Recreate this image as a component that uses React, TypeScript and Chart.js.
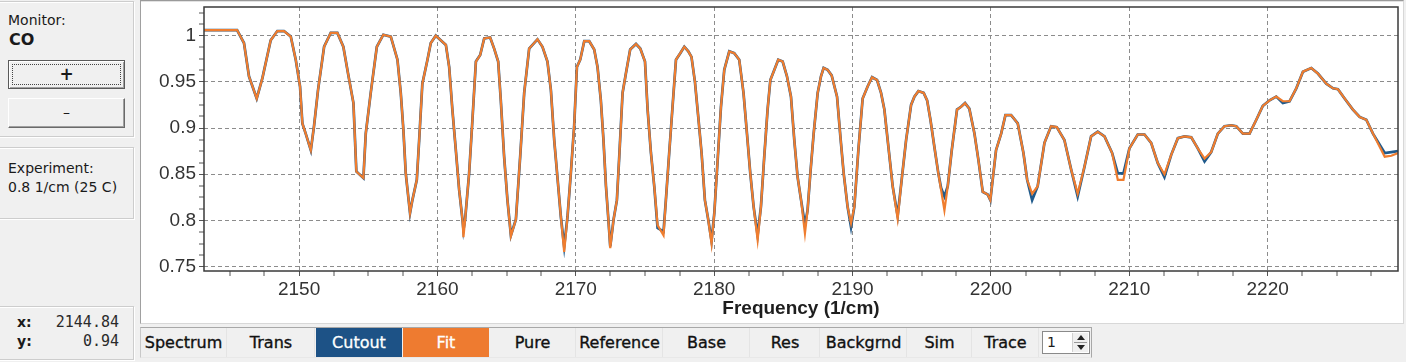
import React, { useEffect, useRef } from 'react';
import { Chart, registerables } from 'chart.js';

Chart.register(...registerables);

const X_MIN = 2143.13;
const X_MAX = 2229.42;
const Y_MIN = 0.7453;
const Y_MAX = 1.031;

const freqs = [
  2143.13, 2145.06, 2145.52, 2146.02, 2146.38, 2146.94, 2147.35, 2147.95, 2148.43, 2148.91,
  2149.40, 2149.76, 2150.07, 2150.24, 2150.48, 2150.85, 2151.08, 2151.37, 2151.81, 2152.29,
  2152.77, 2153.20, 2153.54, 2153.93, 2154.14, 2154.65, 2154.82, 2155.18, 2155.62, 2156.09,
  2156.63, 2157.11, 2157.35, 2157.54, 2157.71, 2158.02, 2158.19, 2158.51, 2158.68, 2158.91,
  2159.28, 2159.52, 2159.88, 2160.24, 2160.61, 2160.85, 2161.08, 2161.33, 2161.57, 2161.81,
  2161.88, 2162.00, 2162.29, 2162.53, 2162.78, 2163.09, 2163.38, 2163.81, 2164.10, 2164.39,
  2164.58, 2164.82, 2165.06, 2165.31, 2165.67, 2165.98, 2166.27, 2166.63, 2166.87, 2167.23,
  2167.59, 2167.95, 2168.20, 2168.44, 2168.73, 2168.92, 2169.16, 2169.40, 2169.64, 2169.88,
  2170.08, 2170.32, 2170.61, 2170.97, 2171.33, 2171.57, 2171.81, 2172.00, 2172.18, 2172.34,
  2172.49, 2172.73, 2172.97, 2173.14, 2173.38, 2173.62, 2173.93, 2174.35, 2174.66, 2175.00,
  2175.19, 2175.43, 2175.67, 2175.91, 2176.34, 2176.51, 2176.75, 2176.99, 2177.24, 2177.55,
  2177.84, 2178.13, 2178.36, 2178.61, 2178.85, 2179.09, 2179.33, 2179.57, 2179.81, 2180.01,
  2180.25, 2180.49, 2180.73, 2181.09, 2181.45, 2181.81, 2182.12, 2182.37, 2182.61, 2182.85,
  2183.14, 2183.38, 2183.62, 2183.86, 2184.06, 2184.35, 2184.63, 2184.95, 2185.26, 2185.55,
  2185.79, 2186.03, 2186.28, 2186.56, 2186.75, 2186.95, 2187.19, 2187.48, 2187.72, 2187.91,
  2188.20, 2188.49, 2188.88, 2189.12, 2189.36, 2189.64, 2189.89, 2190.13, 2190.42, 2190.73,
  2191.09, 2191.41, 2191.77, 2192.06, 2192.30, 2192.59, 2192.90, 2193.26, 2193.55, 2193.87,
  2194.23, 2194.47, 2194.76, 2195.14, 2195.39, 2195.63, 2195.91, 2196.20, 2196.40, 2196.64,
  2196.88, 2197.17, 2197.55, 2197.84, 2198.13, 2198.44, 2198.81, 2199.10, 2199.41, 2199.77,
  2199.96, 2200.37, 2200.74, 2201.05, 2201.46, 2201.94, 2202.35, 2202.62, 2202.98, 2203.38,
  2203.87, 2204.35, 2204.76, 2205.31, 2205.80, 2206.27, 2206.76, 2207.24, 2207.72, 2208.21,
  2208.76, 2209.17, 2209.58, 2210.01, 2210.61, 2211.10, 2211.58, 2212.06, 2212.54, 2213.03,
  2213.51, 2213.99, 2214.48, 2214.95, 2215.44, 2215.92, 2216.40, 2216.88, 2217.37, 2217.73,
  2218.21, 2218.69, 2219.18, 2219.65, 2220.14, 2220.62, 2221.10, 2221.58, 2222.07, 2222.55,
  2223.15, 2223.63, 2224.24, 2224.72, 2225.08, 2225.56, 2226.16, 2226.65, 2227.13, 2227.61,
  2228.46, 2228.94, 2229.42,
];

const cutout = [
  1.006, 1.006, 1.006, 0.992, 0.956, 0.932, 0.954, 0.995, 1.005, 1.005,
  0.999, 0.974, 0.945, 0.905, 0.894, 0.876, 0.902, 0.941, 0.988, 1.003,
  1.003, 0.988, 0.959, 0.927, 0.853, 0.846, 0.894, 0.938, 0.988, 1.001,
  0.999, 0.974, 0.938, 0.898, 0.851, 0.808, 0.822, 0.844, 0.887, 0.948,
  0.974, 0.992, 1.000, 0.995, 0.990, 0.966, 0.920, 0.876, 0.833, 0.801,
  0.790, 0.801, 0.851, 0.909, 0.972, 0.979, 0.997, 0.998, 0.986, 0.972,
  0.930, 0.869, 0.822, 0.784, 0.801, 0.869, 0.938, 0.986, 0.990, 0.996,
  0.988, 0.972, 0.941, 0.887, 0.837, 0.804, 0.772, 0.804, 0.851, 0.902,
  0.966, 0.974, 0.994, 0.994, 0.985, 0.966, 0.930, 0.887, 0.837, 0.804,
  0.772, 0.801, 0.822, 0.869, 0.938, 0.959, 0.985, 0.991, 0.986, 0.972,
  0.920, 0.873, 0.837, 0.792, 0.788, 0.822, 0.873, 0.923, 0.974, 0.981,
  0.988, 0.983, 0.977, 0.950, 0.912, 0.873, 0.822, 0.801, 0.778, 0.808,
  0.865, 0.923, 0.963, 0.983, 0.981, 0.974, 0.938, 0.894, 0.851, 0.815,
  0.784, 0.815, 0.869, 0.920, 0.952, 0.963, 0.974, 0.972, 0.956, 0.934,
  0.887, 0.847, 0.822, 0.795, 0.811, 0.851, 0.894, 0.938, 0.956, 0.965,
  0.963, 0.957, 0.934, 0.891, 0.851, 0.815, 0.793, 0.815, 0.876, 0.932,
  0.945, 0.955, 0.952, 0.938, 0.920, 0.880, 0.837, 0.805, 0.844, 0.887,
  0.925, 0.934, 0.940, 0.938, 0.930, 0.909, 0.880, 0.851, 0.835, 0.826,
  0.837, 0.876, 0.920, 0.923, 0.927, 0.921, 0.894, 0.865, 0.831, 0.828,
  0.822, 0.876, 0.894, 0.914, 0.914, 0.905, 0.873, 0.844, 0.822, 0.837,
  0.884, 0.902, 0.901, 0.887, 0.855, 0.826, 0.858, 0.891, 0.896, 0.891,
  0.873, 0.851, 0.851, 0.878, 0.893, 0.893, 0.884, 0.862, 0.847, 0.871,
  0.889, 0.891, 0.890, 0.878, 0.864, 0.874, 0.894, 0.902, 0.903, 0.902,
  0.894, 0.894, 0.909, 0.924, 0.930, 0.934, 0.927, 0.929, 0.943, 0.961,
  0.965, 0.959, 0.948, 0.943, 0.942, 0.932, 0.920, 0.912, 0.909, 0.894,
  0.873, 0.874, 0.875,
];

const fit = [
  1.006, 1.006, 1.006, 0.992, 0.956, 0.932, 0.954, 0.995, 1.005, 1.005,
  0.999, 0.974, 0.945, 0.905, 0.894, 0.876, 0.902, 0.941, 0.988, 1.003,
  1.003, 0.988, 0.959, 0.927, 0.853, 0.846, 0.894, 0.938, 0.988, 1.001,
  0.999, 0.974, 0.938, 0.898, 0.851, 0.808, 0.822, 0.844, 0.887, 0.948,
  0.974, 0.992, 1.000, 0.995, 0.990, 0.966, 0.920, 0.876, 0.833, 0.801,
  0.782, 0.801, 0.851, 0.909, 0.972, 0.979, 0.997, 0.998, 0.986, 0.972,
  0.930, 0.869, 0.822, 0.783, 0.801, 0.869, 0.938, 0.986, 0.990, 0.996,
  0.988, 0.972, 0.941, 0.887, 0.837, 0.804, 0.766, 0.804, 0.851, 0.902,
  0.966, 0.974, 0.994, 0.994, 0.985, 0.966, 0.930, 0.887, 0.837, 0.804,
  0.770, 0.801, 0.822, 0.869, 0.938, 0.959, 0.985, 0.991, 0.986, 0.972,
  0.920, 0.873, 0.837, 0.795, 0.784, 0.822, 0.873, 0.923, 0.974, 0.981,
  0.988, 0.983, 0.977, 0.950, 0.912, 0.873, 0.822, 0.801, 0.775, 0.808,
  0.865, 0.923, 0.963, 0.983, 0.981, 0.974, 0.938, 0.894, 0.851, 0.815,
  0.779, 0.815, 0.869, 0.920, 0.952, 0.963, 0.974, 0.972, 0.956, 0.934,
  0.887, 0.847, 0.822, 0.786, 0.811, 0.851, 0.894, 0.938, 0.956, 0.965,
  0.963, 0.957, 0.934, 0.891, 0.851, 0.815, 0.797, 0.815, 0.876, 0.932,
  0.945, 0.955, 0.952, 0.938, 0.920, 0.880, 0.837, 0.802, 0.844, 0.887,
  0.925, 0.934, 0.940, 0.938, 0.930, 0.909, 0.880, 0.851, 0.833, 0.811,
  0.837, 0.876, 0.920, 0.923, 0.927, 0.921, 0.894, 0.865, 0.831, 0.828,
  0.822, 0.876, 0.894, 0.914, 0.914, 0.905, 0.873, 0.844, 0.829, 0.837,
  0.884, 0.902, 0.901, 0.887, 0.855, 0.829, 0.858, 0.891, 0.896, 0.891,
  0.873, 0.844, 0.844, 0.878, 0.893, 0.893, 0.884, 0.862, 0.850, 0.871,
  0.889, 0.891, 0.890, 0.878, 0.867, 0.874, 0.894, 0.902, 0.903, 0.902,
  0.894, 0.894, 0.909, 0.924, 0.930, 0.934, 0.929, 0.929, 0.943, 0.961,
  0.965, 0.959, 0.948, 0.943, 0.942, 0.932, 0.920, 0.912, 0.909, 0.894,
  0.869, 0.870, 0.873,
];

const xTickValues = [
  2145, 2147.5, 2150, 2152.5, 2155, 2157.5, 2160, 2162.5, 2165, 2167.5, 2170, 2172.5,
  2175, 2177.5, 2180, 2182.5, 2185, 2187.5, 2190, 2192.5, 2195, 2197.5, 2200, 2202.5,
  2205, 2207.5, 2210, 2212.5, 2215, 2217.5, 2220, 2222.5, 2225, 2227.5,
];
const xLabelValues = [2150, 2160, 2170, 2180, 2190, 2200, 2210, 2220];

const yTickValues = [
  0.75, 0.7625, 0.775, 0.7875, 0.8, 0.8125, 0.825, 0.8375, 0.85, 0.8625, 0.875, 0.8875,
  0.9, 0.9125, 0.925, 0.9375, 0.95, 0.9625, 0.975, 0.9875, 1, 1.0125, 1.025,
];
const yLabelValues = [0.75, 0.8, 0.85, 0.9, 0.95, 1];

const toolbarButtons = [
  { label: 'Spectrum', left: 141, width: 86 },
  { label: 'Trans', left: 228, width: 87 },
  { label: 'Cutout', left: 316, width: 86, bg: '#1d5286', fg: '#ffffff' },
  { label: 'Fit', left: 403, width: 86, bg: '#ee7b30', fg: '#ffffff' },
  { label: 'Pure', left: 490, width: 86 },
  { label: 'Reference', left: 577, width: 86 },
  { label: 'Base', left: 664, width: 86 },
  { label: 'Res', left: 751, width: 69 },
  { label: 'Backgrnd', left: 821, width: 86 },
  { label: 'Sim', left: 908, width: 64 },
  { label: 'Trace', left: 973, width: 66 },
];

const near = (list: number[], v: any) =>
  typeof v === 'number' && list.some((m) => Math.abs(m - v) < 1e-6);

const framePlugin = {
  id: 'frame',
  afterDatasetsDraw(chart: any) {
    const { ctx, chartArea } = chart;
    const { left, top, right, bottom } = chartArea;
    ctx.save();
    ctx.strokeStyle = '#3a3a3a';
    ctx.lineWidth = 1.5;
    ctx.strokeRect(left, top, right - left, bottom - top);
    ctx.restore();
  },
};

const uiFont = "'DejaVu Sans', 'Noto Sans', sans-serif";

export default function App() {
  const canvasRef = useRef<HTMLCanvasElement | null>(null);

  useEffect(() => {
    const canvas = canvasRef.current;
    if (!canvas) return;
    const tickFont = { family: "'Liberation Sans', Arial, sans-serif", size: 19 };
    const chart = new Chart(canvas, {
      type: 'line',
      data: {
        datasets: [
          {
            label: 'Fit',
            data: freqs.map((x, i) => ({ x, y: fit[i] })),
            borderColor: '#ef7d2f',
            borderWidth: 2.2,
            pointRadius: 0,
            tension: 0,
            order: 1,
          },
          {
            label: 'Cutout',
            data: freqs.map((x, i) => ({ x, y: cutout[i] })),
            borderColor: '#1f5a8c',
            borderWidth: 2.7,
            pointRadius: 0,
            tension: 0,
            order: 2,
          },
        ],
      },
      options: {
        animation: false,
        responsive: false,
        maintainAspectRatio: false,
        layout: { padding: { left: 0, top: 5, right: 3, bottom: 0 } },
        plugins: { legend: { display: false }, tooltip: { enabled: false } },
        scales: {
          x: {
            type: 'linear',
            min: X_MIN,
            max: X_MAX,
            afterBuildTicks: (s: any) => {
              s.ticks = xTickValues.map((v) => ({ value: v }));
            },
            afterFit: (s: any) => {
              s.height = 51;
              s.paddingLeft = 0;
              s.paddingRight = 0;
            },
            ticks: {
              autoSkip: false,
              maxRotation: 0,
              minRotation: 0,
              padding: 2,
              color: '#333333',
              font: tickFont,
              callback: (v: any) => (near(xLabelValues, v) ? String(v) : ''),
            },
            grid: {
              color: '#8c8c8c',
              lineWidth: (c: any) => (near(xLabelValues, c.tick && c.tick.value) ? 1 : 0),
              tickLength: 5,
              tickWidth: 1,
              tickColor: '#555555',
            },
            border: { display: false, dash: [4, 3] },
            title: {
              display: true,
              text: 'Frequency (1/cm)',
              color: '#1e1e1e',
              font: { family: "'Liberation Sans', Arial, sans-serif", size: 19, weight: 'bold' },
              padding: { top: 0, bottom: 2 },
            },
          },
          y: {
            type: 'linear',
            min: Y_MIN,
            max: Y_MAX,
            afterBuildTicks: (s: any) => {
              s.ticks = yTickValues.map((v) => ({ value: v }));
            },
            afterFit: (s: any) => {
              s.width = 63;
              s.paddingTop = 0;
              s.paddingBottom = 0;
            },
            ticks: {
              autoSkip: false,
              padding: 3,
              color: '#333333',
              font: tickFont,
              callback: (v: any) => (near(yLabelValues, v) ? String(Math.round(v * 100) / 100) : ''),
            },
            grid: {
              color: '#8c8c8c',
              lineWidth: (c: any) => (near(yLabelValues, c.tick && c.tick.value) ? 1 : 0),
              tickLength: 5,
              tickWidth: 1,
              tickColor: '#555555',
            },
            border: { display: false, dash: [4, 3] },
          },
        },
      } as any,
      plugins: [framePlugin],
    });
    return () => chart.destroy();
  }, []);

  const groupBox: React.CSSProperties = {
    position: 'absolute',
    left: -2,
    width: 136,
    border: '1px solid #cdcdcd',
    boxShadow: 'inset 1px 1px 0 #ffffff, 1px 1px 0 #ffffff',
    boxSizing: 'border-box',
  };

  return (
    <div
      style={{
        position: 'fixed',
        left: 0,
        top: 0,
        width: 1406,
        height: 362,
        background: '#f0f0f0',
        overflow: 'hidden',
        fontFamily: uiFont,
        color: '#1a1a1a',
      }}
    >
      {/* Left panel */}
      <div style={{ ...groupBox, top: 1, height: 136 }} />
      <div style={{ position: 'absolute', left: 8, top: 12, fontSize: 14 }}>Monitor:</div>
      <div style={{ position: 'absolute', left: 9, top: 30, fontSize: 16, fontWeight: 'bold' }}>CO</div>
      <div
        style={{
          position: 'absolute',
          left: 8,
          top: 60,
          width: 117,
          height: 29,
          boxSizing: 'border-box',
          border: '1px solid #5a5a5a',
          boxShadow: 'inset 1px 1px 0 #ffffff, inset -1px -1px 0 #a0a0a0',
          background: '#f0f0f0',
        }}
      >
        <div
          style={{
            position: 'absolute',
            left: 3,
            top: 3,
            right: 3,
            bottom: 3,
            border: '1px dotted #444',
          }}
        />
        <div
          style={{
            position: 'absolute',
            left: 0,
            right: 0,
            top: 0,
            bottom: 0,
            textAlign: 'center',
            lineHeight: '27px',
            fontSize: 17,
            fontWeight: 'bold',
          }}
        >
          +
        </div>
      </div>
      <div
        style={{
          position: 'absolute',
          left: 8,
          top: 98,
          width: 117,
          height: 30,
          boxSizing: 'border-box',
          borderTop: '1px solid #ffffff',
          borderLeft: '1px solid #ffffff',
          borderRight: '1px solid #6a6a6a',
          borderBottom: '1px solid #6a6a6a',
          boxShadow: 'inset -1px -1px 0 #a0a0a0',
          background: '#f0f0f0',
          textAlign: 'center',
          lineHeight: '27px',
          fontSize: 14,
        }}
      >
        –
      </div>

      <div style={{ ...groupBox, top: 147, height: 72 }} />
      <div style={{ position: 'absolute', left: 8, top: 160, fontSize: 14 }}>Experiment:</div>
      <div style={{ position: 'absolute', left: 8, top: 179, fontSize: 14 }}>0.8 1/cm (25 C)</div>

      <div style={{ ...groupBox, top: 306, height: 54 }} />
      <div style={{ position: 'absolute', left: 17, top: 314, fontSize: 14, fontWeight: 'bold' }}>x:</div>
      <div style={{ position: 'absolute', left: 17, top: 333, fontSize: 14, fontWeight: 'bold' }}>y:</div>
      <div
        style={{
          position: 'absolute',
          right: 1406 - 119,
          top: 313,
          fontSize: 15,
          fontFamily: "'DejaVu Sans Mono', 'Liberation Mono', monospace",
          color: '#2a2a2a',
        }}
      >
        2144.84
      </div>
      <div
        style={{
          position: 'absolute',
          right: 1406 - 119,
          top: 332,
          fontSize: 15,
          fontFamily: "'DejaVu Sans Mono', 'Liberation Mono', monospace",
          color: '#2a2a2a',
        }}
      >
        0.94
      </div>

      {/* Chart panel */}
      <div
        style={{
          position: 'absolute',
          left: 140,
          top: 0,
          width: 1264,
          height: 324,
          boxSizing: 'border-box',
          background: '#ffffff',
          borderLeft: '1px solid #a0a0a0',
          borderTop: '1px solid #9a9a9a',
          borderRight: '1px solid #d8d8d8',
          borderBottom: '1px solid #d8d8d8',
          boxShadow: 'inset 0 1px 0 #e2e2e2',
        }}
      />
      <canvas
        ref={canvasRef}
        width={1260}
        height={320}
        style={{ position: 'absolute', left: 141, top: 2, width: 1260, height: 320 }}
      />

      {/* Toolbar */}
      <div
        style={{
          position: 'absolute',
          left: 140,
          top: 327,
          width: 952,
          height: 31,
          boxSizing: 'border-box',
          borderTop: '1px solid #a8a8a8',
          borderLeft: '1px solid #c8c8c8',
          borderRight: '1px solid #a8a8a8',
          borderBottom: '1px solid #e8e8e8',
          background: '#f0f0f0',
        }}
      />
      {toolbarButtons.map((b) => (
        <div
          key={b.label}
          style={{
            position: 'absolute',
            left: b.left,
            top: 328,
            width: b.width,
            height: 29,
            background: b.bg || 'transparent',
            color: b.fg || '#111111',
            borderRight: b.bg ? 'none' : '1px solid #e4e4e4',
            boxSizing: 'border-box',
            textAlign: 'center',
            lineHeight: '29px',
            fontSize: 16,
            fontFamily: uiFont,
            WebkitTextStroke: b.bg ? '0.3px #ffffff' : '0.35px #111111',
          }}
        >
          {b.label}
        </div>
      ))}
      {/* Spin box */}
      <div
        style={{
          position: 'absolute',
          left: 1042,
          top: 331,
          width: 48,
          height: 23,
          boxSizing: 'border-box',
          background: '#ffffff',
          border: '1px solid #8a8a8a',
        }}
      >
        <div style={{ position: 'absolute', left: 4, top: 1, fontSize: 14, lineHeight: '19px' }}>1</div>
        <div
          style={{
            position: 'absolute',
            right: 1,
            top: 1,
            width: 16,
            height: 19,
            background: '#f0f0f0',
            borderLeft: '1px solid #d0d0d0',
            boxSizing: 'border-box',
          }}
        >
          <div
            style={{
              position: 'absolute',
              left: 4,
              top: 2,
              width: 0,
              height: 0,
              borderLeft: '4px solid transparent',
              borderRight: '4px solid transparent',
              borderBottom: '5px solid #222',
            }}
          />
          <div style={{ position: 'absolute', left: 1, right: 1, top: 9, height: 1, background: '#999' }} />
          <div
            style={{
              position: 'absolute',
              left: 4,
              top: 12,
              width: 0,
              height: 0,
              borderLeft: '4px solid transparent',
              borderRight: '4px solid transparent',
              borderTop: '5px solid #222',
            }}
          />
        </div>
      </div>
    </div>
  );
}
